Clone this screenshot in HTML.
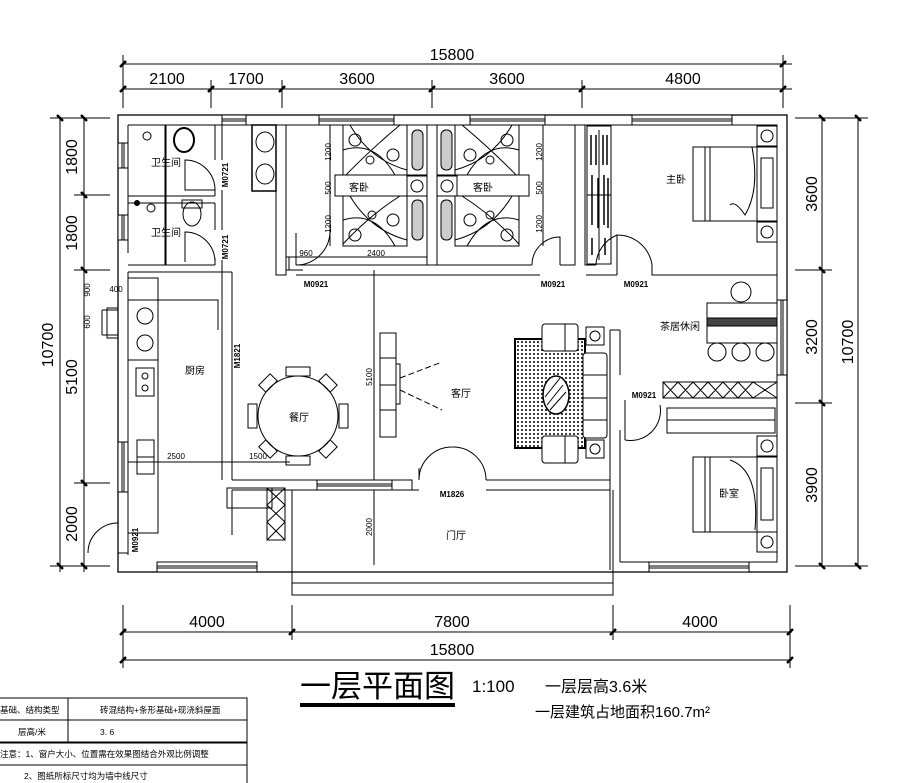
<!DOCTYPE html>
<html><head><meta charset="utf-8"><style>
html,body{margin:0;padding:0;background:#fff}
svg{display:block}
text{font-family:"Liberation Sans","Noto Sans CJK SC",sans-serif;fill:#000}
</style></head><body>
<svg width="899" height="783" viewBox="0 0 899 783" xmlns="http://www.w3.org/2000/svg">
<g stroke="#000" fill="none" stroke-width="1">
<!-- top dims -->
<line x1="123" y1="64" x2="792" y2="64"/>
<line x1="123" y1="89" x2="792" y2="89"/>
<g stroke-width="1">
<line x1="123" y1="55" x2="123" y2="108"/><line x1="211" y1="80" x2="211" y2="108"/><line x1="282" y1="80" x2="282" y2="108"/><line x1="432" y1="80" x2="432" y2="108"/><line x1="582" y1="80" x2="582" y2="108"/><line x1="783" y1="55" x2="783" y2="108"/>
</g>
<g stroke-width="2.5">
<line x1="120" y1="67" x2="126" y2="61"/><line x1="120" y1="92" x2="126" y2="86"/><line x1="208" y1="92" x2="214" y2="86"/><line x1="279" y1="92" x2="285" y2="86"/><line x1="429" y1="92" x2="435" y2="86"/><line x1="579" y1="92" x2="585" y2="86"/><line x1="780" y1="92" x2="786" y2="86"/><line x1="780" y1="67" x2="786" y2="61"/>
</g>
<!-- bottom dims -->
<line x1="123" y1="632" x2="792" y2="632"/>
<line x1="123" y1="660" x2="792" y2="660"/>
<line x1="123" y1="605" x2="123" y2="668"/><line x1="292" y1="605" x2="292" y2="640"/><line x1="613" y1="605" x2="613" y2="640"/><line x1="790" y1="605" x2="790" y2="668"/>
<g stroke-width="2.5"><line x1="120" y1="635" x2="126" y2="629"/><line x1="289" y1="635" x2="295" y2="629"/><line x1="610" y1="635" x2="616" y2="629"/><line x1="787" y1="635" x2="793" y2="629"/><line x1="120" y1="663" x2="126" y2="657"/><line x1="787" y1="663" x2="793" y2="657"/></g>
<!-- left dims -->
<line x1="60" y1="118" x2="60" y2="572"/><line x1="84" y1="118" x2="84" y2="572"/>
<line x1="50" y1="118" x2="110" y2="118"/><line x1="74" y1="195" x2="110" y2="195"/><line x1="74" y1="270" x2="110" y2="270"/><line x1="74" y1="483" x2="110" y2="483"/><line x1="50" y1="566" x2="110" y2="566"/>
<g stroke-width="2.5"><line x1="57" y1="115" x2="63" y2="121"/><line x1="81" y1="115" x2="87" y2="121"/><line x1="81" y1="192" x2="87" y2="198"/><line x1="81" y1="267" x2="87" y2="273"/><line x1="81" y1="480" x2="87" y2="486"/><line x1="57" y1="563" x2="63" y2="569"/><line x1="81" y1="563" x2="87" y2="569"/></g>
<!-- right dims -->
<line x1="822" y1="118" x2="822" y2="566"/><line x1="858" y1="118" x2="858" y2="566"/>
<line x1="795" y1="118" x2="868" y2="118"/><line x1="795" y1="270" x2="832" y2="270"/><line x1="795" y1="403" x2="832" y2="403"/><line x1="795" y1="566" x2="868" y2="566"/>
<g stroke-width="2.5"><line x1="819" y1="115" x2="825" y2="121"/><line x1="855" y1="115" x2="861" y2="121"/><line x1="819" y1="267" x2="825" y2="273"/><line x1="819" y1="400" x2="825" y2="406"/><line x1="819" y1="563" x2="825" y2="569"/><line x1="855" y1="563" x2="861" y2="569"/></g>

<!-- outer walls -->
<rect x="118" y="115" width="669" height="457" stroke-width="1.3"/>
<path d="M128 125 H777 V562 H620" stroke-width="1"/>
<path d="M128 125 V253 M128 272 V555" />
<rect x="222" y="115" width="24" height="10" fill="#fff"/><line x1="222" y1="119" x2="246" y2="119"/><line x1="222" y1="121" x2="246" y2="121"/>
<rect x="319" y="115" width="75" height="10" fill="#fff"/><line x1="319" y1="119" x2="394" y2="119"/><line x1="319" y1="121" x2="394" y2="121"/>
<rect x="470" y="115" width="75" height="10" fill="#fff"/><line x1="470" y1="119" x2="545" y2="119"/><line x1="470" y1="121" x2="545" y2="121"/>
<rect x="632" y="115" width="100" height="10" fill="#fff"/><line x1="632" y1="119" x2="732" y2="119"/><line x1="632" y1="121" x2="732" y2="121"/>
<rect x="118" y="143" width="10" height="25" fill="#fff"/><line x1="122" y1="143" x2="122" y2="168"/><line x1="124" y1="143" x2="124" y2="168"/>
<rect x="118" y="215" width="10" height="25" fill="#fff"/><line x1="122" y1="215" x2="122" y2="240"/><line x1="124" y1="215" x2="124" y2="240"/>
<rect x="118" y="442" width="10" height="50" fill="#fff"/><line x1="122" y1="442" x2="122" y2="492"/><line x1="124" y1="442" x2="124" y2="492"/>
<rect x="777" y="300" width="10" height="75" fill="#fff"/><line x1="781" y1="300" x2="781" y2="375"/><line x1="783" y1="300" x2="783" y2="375"/>
<rect x="157" y="562" width="100" height="10" fill="#fff"/><line x1="157" y1="566" x2="257" y2="566"/><line x1="157" y1="568" x2="257" y2="568"/>
<rect x="649" y="562" width="100" height="10" fill="#fff"/><line x1="649" y1="566" x2="749" y2="566"/><line x1="649" y1="568" x2="749" y2="568"/>

<!-- bathrooms -->
<path d="M128 196 H215 M128 203 H215 M165 125 V265 M166 125 V265"/>
<path d="M215 125 V160 M222 125 V160 M215 190 V196 M215 203 V230 M222 190 V230 M215 258 V265 M222 260 V275 M128 265 H215 M128 272 H232"/>
<path d="M215 190 A30 30 0 0 0 185 160 V190 Z"/>
<path d="M215 262 A30 30 0 0 0 185 232 V262"/>
<circle cx="147" cy="136" r="4"/><circle cx="151" cy="208" r="4"/><circle cx="137" cy="203" r="2.5" fill="#000"/>
<ellipse cx="184" cy="140" rx="10" ry="12" stroke-width="2"/><ellipse cx="192" cy="214" rx="9" ry="12"/><rect x="182" y="200" width="20" height="8"/>
<rect x="252" y="125" width="24" height="66" stroke-width="1.5"/>
<ellipse cx="265" cy="142" rx="9" ry="10"/><ellipse cx="265" cy="174" rx="9" ry="10"/>
<path d="M276 125 V275 H286 V125 M232 272 V330 M222 275 V480 M232 330 V480"/>
<path d="M286 265 V275 M286 270 H303 M296 265 H330 M296 275 H540"/>
<!-- guest rooms -->
<path d="M427 125 V265 H437 V125 M330 265 H427 M437 265 H532 M560 265 H575 V125 M585 125 V265 H596"/>
<path d="M296 265 A34 34 0 0 0 330 231"/>
<path d="M296 265 V233"/>
<path d="M532 265 A28 28 0 0 1 560 237 V265"/>
<g>
<rect x="343" y="125" width="64" height="50"/><rect x="343" y="196" width="64" height="50"/>
<rect x="455" y="125" width="64" height="50"/><rect x="455" y="196" width="64" height="50"/>
<path d="M343 178 Q370 150 400 125 M350 125 Q370 160 407 170 M343 150 Q375 140 395 175 M343 244 Q370 215 400 196 M350 196 Q370 230 407 240 M343 220 Q375 210 395 246"/>
<path d="M519 178 Q492 150 462 125 M512 125 Q492 160 455 170 M519 150 Q487 140 467 175 M519 244 Q492 215 462 196 M512 196 Q492 230 455 240 M519 220 Q487 210 467 246"/>
<circle cx="355" cy="140" r="6"/><circle cx="393" cy="155" r="6"/><circle cx="370" cy="160" r="4"/><circle cx="355" cy="235" r="6"/><circle cx="393" cy="220" r="6"/><circle cx="372" cy="215" r="4"/>
<circle cx="507" cy="140" r="6"/><circle cx="470" cy="155" r="6"/><circle cx="490" cy="160" r="4"/><circle cx="507" cy="235" r="6"/><circle cx="470" cy="220" r="6"/><circle cx="490" cy="215" r="4"/>
<rect x="335" y="175" width="92" height="21" fill="#fff"/><rect x="437" y="175" width="92" height="21" fill="#fff"/>
<rect x="412" y="130" width="11" height="40" rx="5" fill="#ccc"/><rect x="412" y="200" width="11" height="40" rx="5" fill="#ccc"/>
<rect x="441" y="130" width="11" height="40" rx="5" fill="#ccc"/><rect x="441" y="200" width="11" height="40" rx="5" fill="#ccc"/>
<rect x="407" y="176" width="20" height="20"/><circle cx="417" cy="186" r="6"/><rect x="437" y="176" width="20" height="20"/><circle cx="447" cy="186" r="6"/>
</g>
<line x1="330" y1="125" x2="330" y2="246"/><line x1="543" y1="125" x2="543" y2="246"/>
<line x1="286" y1="257" x2="427" y2="257"/>
<!-- master bedroom -->
<path d="M586 275 H617 M617 265 V275 M652 265 V275 H777 M596 265 A34 34 0 0 1 617 235 M617 235 V265"/>
<path d="M617 235 A35 35 0 0 1 652 265"/>
<rect x="587" y="126" width="24" height="138"/><line x1="599" y1="130" x2="599" y2="260"/><line x1="587" y1="195" x2="611" y2="195"/>
<g stroke-width="1.5"><path d="M591 135 V165 M596 135 V165 M603 135 V165 M607 135 V165 M592 175 V225 M598 178 V228 M604 175 V225 M608 178 V228 M592 238 V255 M605 238 V255"/></g>
<rect x="693" y="147" width="84" height="74"/><rect x="757" y="147" width="20" height="74"/><rect x="761" y="158" width="12" height="50"/>
<line x1="705" y1="147" x2="705" y2="221"/><line x1="710" y1="147" x2="710" y2="221"/>
<path d="M752 147 Q760 190 745 215 Q735 200 730 205"/>
<rect x="757" y="126" width="20" height="20"/><circle cx="767" cy="136" r="6"/><rect x="757" y="222" width="20" height="20"/><circle cx="767" cy="232" r="6"/>
<rect x="707" y="303" width="70" height="40"/><rect x="707" y="318" width="70" height="8" fill="#444"/>
<circle cx="741" cy="292" r="10"/><circle cx="717" cy="352" r="9"/><circle cx="741" cy="352" r="9"/><circle cx="765" cy="352" r="9"/>
<path d="M610 330 V570 M620 330 V375 M620 430 V562 M610 330 H620"/>
<path d="M625 440 A30 30 0 0 0 660 405 M625 400 V440"/>
<rect x="663" y="382" width="114" height="16"/>
<path d="M663 382 L678 398 M678 382 L663 398 M678 382 L693 398 M693 382 L678 398 M693 382 L708 398 M708 382 L693 398 M708 382 L723 398 M723 382 L708 398 M723 382 L738 398 M738 382 L723 398 M738 382 L753 398 M753 382 L738 398 M753 382 L777 398 M777 382 L753 398"/>
<rect x="667" y="408" width="108" height="25"/><line x1="667" y1="420" x2="775" y2="420"/>
<rect x="693" y="457" width="84" height="75"/><rect x="757" y="457" width="20" height="75"/><rect x="761" y="468" width="12" height="52"/>
<line x1="705" y1="457" x2="705" y2="532"/><line x1="710" y1="457" x2="710" y2="532"/>
<path d="M730 460 Q760 470 755 530"/>
<rect x="757" y="436" width="20" height="20"/><circle cx="767" cy="446" r="6"/><rect x="757" y="532" width="20" height="20"/><circle cx="767" cy="542" r="6"/>
<!-- living -->
<rect x="515" y="339" width="70" height="109" fill="url(#dots)" stroke-width="2"/>
<ellipse cx="556" cy="395" rx="13" ry="19" fill="#fff" stroke-width="1.5"/>
<path d="M547 405 L563 385 M545 397 L560 378 M550 410 L566 392"/>
<rect x="542" y="324" width="36" height="27" rx="3" fill="#fff"/><line x1="565" y1="324" x2="565" y2="351"/>
<rect x="542" y="436" width="36" height="27" rx="3" fill="#fff"/><line x1="565" y1="436" x2="565" y2="463"/>
<rect x="583" y="353" width="24" height="85" rx="3" fill="#fff"/><line x1="583" y1="375" x2="607" y2="375"/><line x1="583" y1="398" x2="607" y2="398"/><line x1="583" y1="420" x2="607" y2="420"/>
<rect x="586" y="327" width="18" height="18"/><circle cx="595" cy="336" r="5"/><rect x="586" y="440" width="18" height="18"/><circle cx="595" cy="449" r="5"/>
<rect x="380" y="333" width="16" height="104"/><line x1="380" y1="358" x2="396" y2="358"/><line x1="380" y1="385" x2="396" y2="385"/><line x1="380" y1="410" x2="396" y2="410"/>
<rect x="396" y="364" width="4" height="40"/>
<path d="M400 378 L442 362 M400 390 L442 410" stroke-dasharray="6 3"/>
<line x1="374" y1="270" x2="374" y2="565"/>
<path d="M232 480 H412 V490 M232 490 H419 M419 468 V480 M486 480 H610 M486 490 H610"/>
<path d="M419 480 A33 33 0 0 1 452 447 M486 480 A33 33 0 0 0 452 447"/>
<rect x="317" y="480" width="75" height="10" fill="#fff"/><line x1="317" y1="484" x2="392" y2="484"/><line x1="317" y1="486" x2="392" y2="486"/>
<path d="M292 490 V595 H613 V490 M292 583 H613 M232 490 V535"/>
<!-- kitchen -->
<rect x="128" y="278" width="30" height="255"/>
<path d="M128 300 H218 V330"/>
<line x1="128" y1="360" x2="158" y2="360"/>
<circle cx="145" cy="316" r="8"/><circle cx="145" cy="343" r="8"/>
<rect x="136" y="368" width="18" height="28"/><circle cx="145" cy="376" r="3"/><circle cx="145" cy="388" r="3"/>
<rect x="137" y="440" width="17" height="34"/><line x1="137" y1="457" x2="154" y2="457"/>
<path d="M102 310 H118 M102 335 H118 M102 310 V335"/>
<rect x="107" y="308" width="11" height="30"/>
<rect x="227" y="488" width="45" height="20"/><rect x="267" y="488" width="18" height="52"/>
<path d="M267 488 L285 505 M285 488 L267 505 M267 505 L285 522 M285 505 L267 522 M267 522 L285 540 M285 522 L267 540"/>
<path d="M118 553 H128"/>
<path d="M88 553 A30 30 0 0 1 118 523 V553"/>
<circle cx="298" cy="416" r="40"/>
<g><rect x="286" y="367" width="24" height="9"/><rect x="286" y="456" width="24" height="9"/><rect x="248" y="404" width="9" height="24"/><rect x="339" y="404" width="9" height="24"/>
<rect x="260" y="378" width="16" height="10" transform="rotate(-45 268 383)"/><rect x="320" y="378" width="16" height="10" transform="rotate(45 328 383)"/>
<rect x="260" y="444" width="16" height="10" transform="rotate(45 268 449)"/><rect x="320" y="444" width="16" height="10" transform="rotate(-45 328 449)"/></g>
<line x1="128" y1="462" x2="290" y2="462"/>
<line x1="289" y1="257" x2="289" y2="270"/>
</g>
<defs>
<pattern id="dots" width="4" height="4" patternUnits="userSpaceOnUse"><rect width="4" height="4" fill="#fff"/><circle cx="2" cy="2" r="1" fill="#000"/></pattern>
</defs>

<g font-size="16" text-anchor="middle">
<text x="452" y="60">15800</text>
<text x="167" y="84">2100</text><text x="246" y="84">1700</text><text x="357" y="84">3600</text><text x="507" y="84">3600</text><text x="683" y="84">4800</text>
<text x="207" y="627">4000</text><text x="452" y="627">7800</text><text x="700" y="627">4000</text><text x="452" y="655">15800</text>
<text transform="translate(77,157) rotate(-90)">1800</text>
<text transform="translate(77,233) rotate(-90)">1800</text>
<text transform="translate(77,377) rotate(-90)">5100</text>
<text transform="translate(77,524) rotate(-90)">2000</text>
<text transform="translate(53,345) rotate(-90)">10700</text>
<text transform="translate(817,194) rotate(-90)">3600</text>
<text transform="translate(817,337) rotate(-90)">3200</text>
<text transform="translate(817,485) rotate(-90)">3900</text>
<text transform="translate(853,342) rotate(-90)">10700</text>
</g>
<g font-size="10" text-anchor="middle">
<text x="166" y="166">卫生间</text><text x="166" y="236">卫生间</text>
<text x="359" y="191">客卧</text><text x="483" y="191">客卧</text>
<text x="676" y="183">主卧</text><text x="680" y="330">茶居休闲</text>
<text x="195" y="374">厨房</text><text x="299" y="421">餐厅</text><text x="461" y="397">客厅</text>
<text x="729" y="497">卧室</text><text x="456" y="539">门厅</text>
</g>
<g font-size="8" font-weight="bold" text-anchor="middle">
<text x="316" y="287">M0921</text><text x="553" y="287">M0921</text><text x="636" y="287">M0921</text>
<text x="644" y="398">M0921</text><text x="452" y="497">M1826</text>
<text transform="translate(228,175) rotate(-90)">M0721</text>
<text transform="translate(228,247) rotate(-90)">M0721</text>
<text transform="translate(240,356) rotate(-90)">M1821</text>
<text transform="translate(138,540) rotate(-90)">M0921</text>
</g>
<g font-size="8" text-anchor="middle">
<text x="306" y="256">960</text><text x="376" y="256">2400</text>
<text x="176" y="459">2500</text><text x="258" y="459">1500</text>
<text x="116" y="292">400</text>
<text transform="translate(331,152) rotate(-90)">1200</text><text transform="translate(331,188) rotate(-90)">500</text><text transform="translate(331,224) rotate(-90)">1200</text>
<text transform="translate(542,152) rotate(-90)">1200</text><text transform="translate(542,188) rotate(-90)">500</text><text transform="translate(542,224) rotate(-90)">1200</text>
<text transform="translate(372,377) rotate(-90)">5100</text><text transform="translate(372,527) rotate(-90)">2000</text>
<text transform="translate(90,290) rotate(-90)">900</text><text transform="translate(90,322) rotate(-90)">600</text>
</g>
<text x="300" y="697" font-size="31">一层平面图</text>
<rect x="300" y="703" width="155" height="4" fill="#000"/>
<text x="472" y="692" font-size="17">1:100</text>
<text x="545" y="692" font-size="16">一层层高3.6米</text>
<text x="535" y="717" font-size="15">一层建筑占地面积160.7m²</text>
<g stroke="#000" fill="none">
<path d="M0 698 H247 V783 M0 720 H247 M0 765 H247 M68 698 V742" />
<line x1="0" y1="742.5" x2="247" y2="742.5" stroke-width="2"/>
</g>
<g font-size="8.5">
<text x="0" y="713">基础、结构类型</text><text x="100" y="713">砖混结构+条形基础+现浇斜屋面</text>
<text x="18" y="735">层高/米</text><text x="100" y="735">3. 6</text>
<text x="0" y="757">注意：1、窗户大小、位置需在效果图结合外观比例调整</text>
<text x="24" y="779">2、图纸所标尺寸均为墙中线尺寸</text>
</g>
</svg>
</body></html>
